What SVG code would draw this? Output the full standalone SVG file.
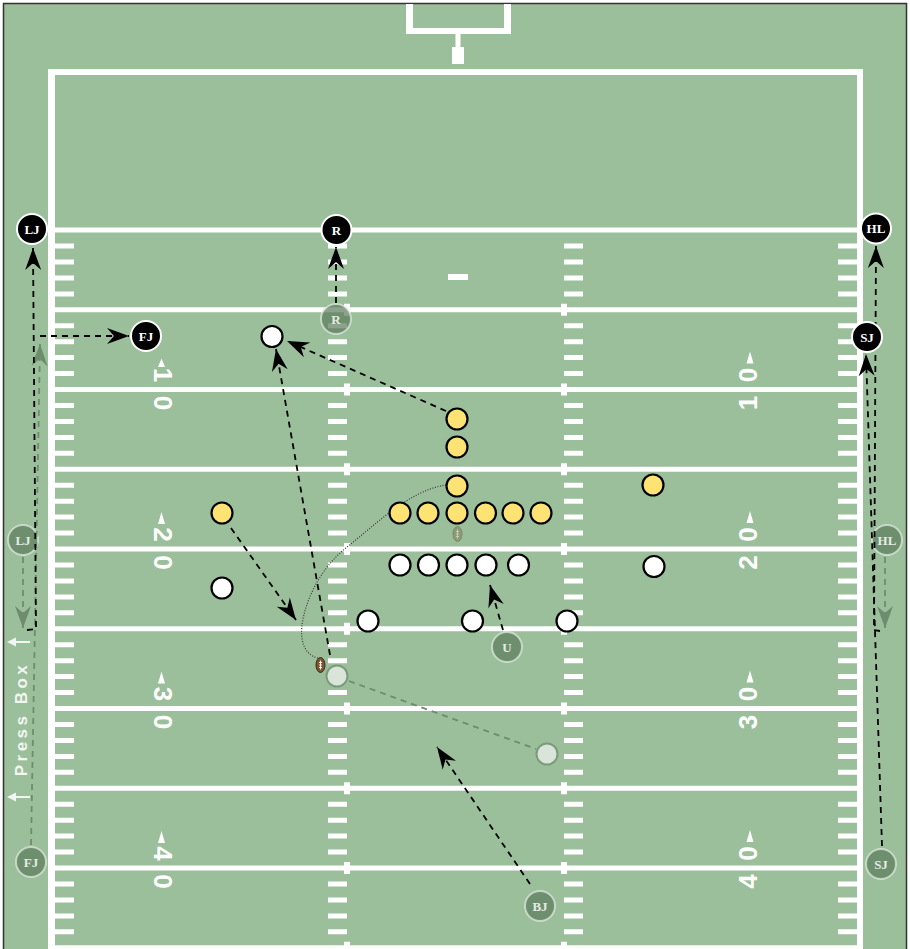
<svg xmlns="http://www.w3.org/2000/svg" xmlns:xlink="http://www.w3.org/1999/xlink" width="910" height="949" viewBox="0 0 910 949">
<style>
.wl{fill:none;stroke:#fff;stroke-width:5}
.num{font-family:"Liberation Sans",Arial,sans-serif;font-weight:bold;font-size:26px;fill:#fff;text-anchor:middle}
.tri{fill:#fff}
.off circle{fill:#000;stroke:#fff;stroke-width:2}
.off text{font-family:"Liberation Serif","Times New Roman",serif;font-weight:bold;font-size:13px;fill:#fff;text-anchor:middle}
.gh circle{fill:#5b7b5b;fill-opacity:.7;stroke:#dce8dc;stroke-opacity:.75;stroke-width:2}
.gh text{font-family:"Liberation Serif","Times New Roman",serif;font-weight:bold;font-size:13px;fill:#e4ece4;text-anchor:middle}
.pw{fill:#fff;stroke:#000;stroke-width:2.2}
.py{fill:#fde274;stroke:#000;stroke-width:2.2}
.pg{fill:#d9e5d9;stroke:#7c9b7c;stroke-width:2}
.dash{fill:none;stroke:#000;stroke-width:1.8;stroke-dasharray:6 5}
.gdash{fill:none;stroke:#6d8d6d;stroke-width:1.8;stroke-dasharray:6 5}
.dot{fill:none;stroke:#3a3a3a;stroke-width:1.2;stroke-dasharray:1 1.6}
.pb{font-family:"Liberation Sans",Arial,sans-serif;font-weight:bold;font-size:17px;letter-spacing:3.5px;fill:#f2f6f2;text-anchor:middle}
</style>
<defs>
<marker id="ah" markerUnits="userSpaceOnUse" viewBox="-24 -10 26 20" markerWidth="26" markerHeight="20" refX="0" refY="0" orient="auto" overflow="visible">
<path d="M0 0L-22 -8L-15 0L-22 8Z" fill="#000"/>
</marker>
<marker id="ahg" markerUnits="userSpaceOnUse" viewBox="-24 -10 26 20" markerWidth="26" markerHeight="20" refX="0" refY="0" orient="auto" overflow="visible">
<path d="M0 0L-22 -8L-15 0L-22 8Z" fill="#6d8d6d"/>
</marker>
<path id="ticks" class="wl" d="M0 246h19M0 262h19M0 278h19M0 294h19M0 325.7h19M0 341.7h19M0 357.6h19M0 373.6h19M0 405.5h19M0 421.4h19M0 437.4h19M0 453.3h19M0 485.2h19M0 501.2h19M0 517.1h19M0 533.1h19M0 565h19M0 580.9h19M0 596.9h19M0 612.8h19M0 644.7h19M0 660.7h19M0 676.6h19M0 692.6h19M0 724.5h19M0 740.4h19M0 756.4h19M0 772.3h19M0 804.2h19M0 820.2h19M0 836.1h19M0 852.1h19M0 884h19M0 899.9h19M0 915.9h19M0 931.8h19"/>
</defs>
<rect x="0" y="0" width="910" height="949" fill="#fff"/>
<rect x="3.5" y="3.5" width="903" height="950" fill="#9bbe9b" stroke="#333" stroke-width="1.5"/>

<g id="field">
<rect x="406" y="4" width="7" height="30" fill="#fff"/>
<rect x="504" y="4" width="7" height="30" fill="#fff"/>
<rect x="406" y="28" width="105" height="6" fill="#fff"/>
<rect x="455.5" y="34" width="5" height="14" fill="#fff"/>
<rect x="452" y="47" width="12" height="17" fill="#fff"/>
<rect x="48" y="69" width="815" height="6" fill="#fff"/>
<rect x="48" y="69" width="7" height="890" fill="#fff"/>
<rect x="857" y="69" width="6" height="890" fill="#fff"/>
<path class="wl" d="M55 230H857M55 309.75H857M55 389.5H857M55 469.25H857M55 549H857M55 628.75H857M55 708.5H857M55 788.25H857M55 868H857M55 947.75H857"/>
<use xlink:href="#ticks" x="55"/>
<use xlink:href="#ticks" x="838"/>
<use xlink:href="#ticks" x="328"/>
<use xlink:href="#ticks" x="564"/>
<path fill="none" stroke="#fff" stroke-width="6" d="M347 303.75v12M347 383.5v12M347 463.25v12M347 543v12M347 622.75v12M347 702.5v12M347 782.25v12M347 862v12M347 941.75v12M564 303.75v12M564 383.5v12M564 463.25v12M564 543v12M564 622.75v12M564 702.5v12M564 782.25v12M564 862v12M564 941.75v12"/>
<rect x="448" y="274" width="20" height="6" fill="#fff"/>
<g class="num">
<text transform="translate(163 375) rotate(90)" dy="9.3">1</text>
<text transform="translate(163 403) rotate(90)" dy="9.3">0</text>
<text transform="translate(163 534.5) rotate(90)" dy="9.3">2</text>
<text transform="translate(163 562.5) rotate(90)" dy="9.3">0</text>
<text transform="translate(163 694) rotate(90)" dy="9.3">3</text>
<text transform="translate(163 722) rotate(90)" dy="9.3">0</text>
<text transform="translate(163 853.5) rotate(90)" dy="9.3">4</text>
<text transform="translate(163 881.5) rotate(90)" dy="9.3">0</text>
<text transform="translate(748 375) rotate(-90)" dy="9.3">0</text>
<text transform="translate(748 403) rotate(-90)" dy="9.3">1</text>
<text transform="translate(748 534.5) rotate(-90)" dy="9.3">0</text>
<text transform="translate(748 562.5) rotate(-90)" dy="9.3">2</text>
<text transform="translate(748 694) rotate(-90)" dy="9.3">0</text>
<text transform="translate(748 722) rotate(-90)" dy="9.3">3</text>
<text transform="translate(748 853.5) rotate(-90)" dy="9.3">0</text>
<text transform="translate(748 881.5) rotate(-90)" dy="9.3">4</text>
</g>
<g class="tri">
<path d="M161.5 358.5L158 367L165 367Z"/>
<path d="M161.5 512L158 524L165 524Z"/>
<path d="M161.5 671.5L158 683.5L165 683.5Z"/>
<path d="M161.5 831L158 843L165 843Z"/>
<path d="M750 351.5L746.5 363.5L753.5 363.5Z"/>
<path d="M750 511L746.5 523L753.5 523Z"/>
<path d="M750 670.5L746.5 682.5L753.5 682.5Z"/>
<path d="M750 830L746.5 842L753.5 842Z"/>
</g>
<text class="pb" transform="translate(27 719) rotate(-90)">Press Box</text>
<g fill="#f2f6f2" stroke="none">
<path d="M7 642L16 637.5L16 646.5Z"/><rect x="15" y="641" width="15" height="2"/>
<path d="M7 797L16 792.5L16 801.5Z"/><rect x="15" y="796" width="15" height="2"/>
</g>
</g>

<g id="ghost-officials">
<g id="ghost-R" class="gh"><circle cx="336" cy="319" r="15"/><text x="336" y="323.5">R</text></g>
<g id="ghost-LJ" class="gh"><circle cx="23" cy="540" r="15"/><text x="23" y="544.5">LJ</text></g>
<g id="ghost-HL" class="gh"><circle cx="887" cy="540" r="15"/><text x="887" y="544.5">HL</text></g>
<g id="ghost-U" class="gh"><circle cx="507" cy="647" r="15"/><text x="507" y="651.5">U</text></g>
<g id="ghost-FJ" class="gh"><circle cx="31" cy="862" r="15"/><text x="31" y="866.5">FJ</text></g>
<g id="ghost-SJ" class="gh"><circle cx="881" cy="864" r="15"/><text x="881" y="868.5">SJ</text></g>
<g id="ghost-BJ" class="gh"><circle cx="540" cy="906" r="15"/><text x="540" y="910.5">BJ</text></g>
</g>

<g id="connectors">
<path class="gdash" d="M23 557L23 628" marker-end="url(#ahg)"/>
<path class="gdash" d="M885 557L885 628" marker-end="url(#ahg)"/>
<path class="gdash" d="M31 845L40 344" marker-end="url(#ahg)"/>
<path class="gdash" d="M349 681L536 749"/>
<path class="dash" d="M27 630L36 629L33 248" marker-end="url(#ah)"/>
<path class="dash" d="M40 336L129 336" marker-end="url(#ah)"/>
<path class="dash" d="M336 303L336 247" marker-end="url(#ah)"/>
<path class="dash" d="M880 631L874 630L876 246" marker-end="url(#ah)"/>
<path class="dash" d="M882 846L866 354" marker-end="url(#ah)"/>
<path class="dash" d="M446 411L287 341" marker-end="url(#ah)"/>
<path class="dash" d="M330 655L276 349" marker-end="url(#ah)"/>
<path class="dash" d="M231 528L296 620" marker-end="url(#ah)"/>
<path class="dash" d="M503 630L490 585" marker-end="url(#ah)"/>
<path class="dash" d="M530 884L437 747" marker-end="url(#ah)"/>
<path class="dot" d="M318 658C305 655 300 642 302 625C305 603 318 570 347 547C375 525 410 490 446 485"/>
</g>

<g id="officials">
<g id="LJ" class="off"><circle cx="32" cy="229" r="15"/><text x="32" y="233.5">LJ</text></g>
<g id="R" class="off"><circle cx="336.5" cy="230" r="15"/><text x="336.5" y="234.5">R</text></g>
<g id="HL" class="off"><circle cx="876" cy="228.5" r="15"/><text x="876" y="233">HL</text></g>
<g id="FJ" class="off"><circle cx="146" cy="336" r="15"/><text x="146" y="340.5">FJ</text></g>
<g id="SJ" class="off"><circle cx="867" cy="337" r="15"/><text x="867" y="341.5">SJ</text></g>
</g>

<g id="defense">
<circle class="py" cx="457" cy="419" r="10.5"/>
<circle class="py" cx="457" cy="447" r="10.5"/>
<circle class="py" cx="457" cy="486" r="10.5"/>
<circle class="py" cx="400" cy="513" r="10.5"/>
<circle class="py" cx="428" cy="513" r="10.5"/>
<circle class="py" cx="457" cy="513" r="10.5"/>
<circle class="py" cx="485.5" cy="513" r="10.5"/>
<circle class="py" cx="513" cy="513" r="10.5"/>
<circle class="py" cx="541" cy="513" r="10.5"/>
<circle class="py" cx="222" cy="513" r="10.5"/>
<circle class="py" cx="653" cy="485" r="10.5"/>
</g>

<g id="offense">
<circle class="pw" cx="272" cy="336.5" r="10.5"/>
<circle class="pw" cx="400" cy="565" r="10.5"/>
<circle class="pw" cx="428.5" cy="565" r="10.5"/>
<circle class="pw" cx="457" cy="565" r="10.5"/>
<circle class="pw" cx="486" cy="565" r="10.5"/>
<circle class="pw" cx="518.5" cy="565" r="10.5"/>
<circle class="pw" cx="654" cy="566.5" r="10.5"/>
<circle class="pw" cx="222" cy="588" r="10.5"/>
<circle class="pw" cx="368" cy="621" r="10.5"/>
<circle class="pw" cx="472.5" cy="621" r="10.5"/>
<circle class="pw" cx="567" cy="621" r="10.5"/>
<circle class="pg" cx="337" cy="676" r="10.5"/>
<circle class="pg" cx="547" cy="754" r="10.5"/>
</g>

<g id="football">
<ellipse cx="320.5" cy="665" rx="4.5" ry="7.5" fill="#7b5530" stroke="#3d2a15" stroke-width="1"/>
<path d="M320.5 660.5v9M319 662.5h3M319 665h3M319 667.5h3" stroke="#fff" stroke-width="0.9" fill="none"/>
</g>
<g id="ghost-football" opacity="0.35">
<ellipse cx="457.5" cy="534" rx="4.5" ry="7.5" fill="#7b5530" stroke="#3d2a15" stroke-width="1"/>
<path d="M457.5 529.5v9M456 531.5h3M456 534h3M456 536.5h3" stroke="#fff" stroke-width="0.9" fill="none"/>
</g>
</svg>
